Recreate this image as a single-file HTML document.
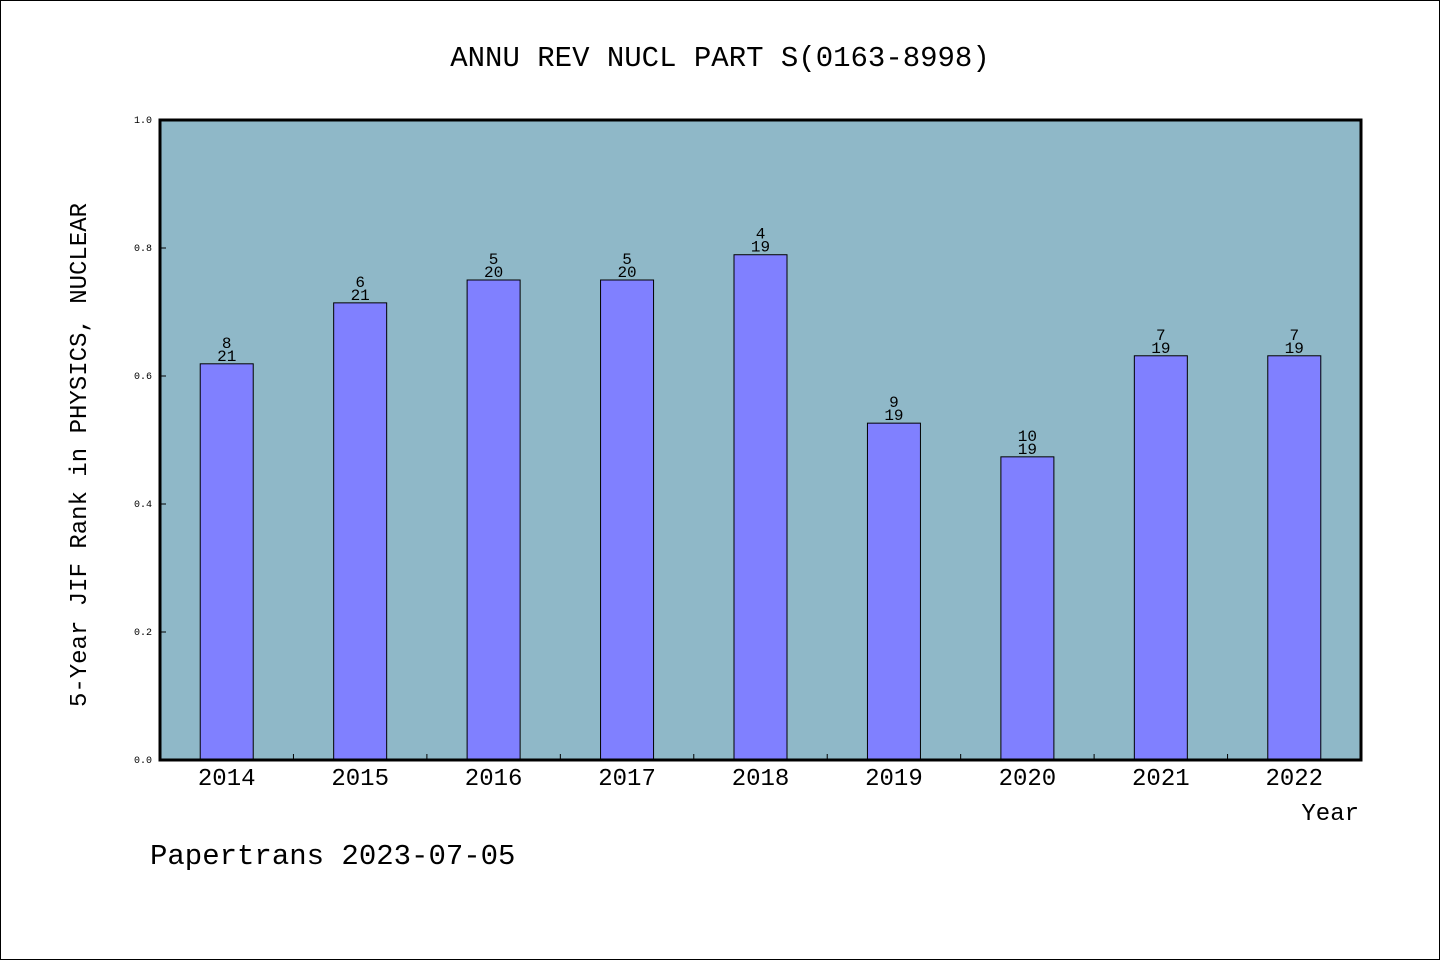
<!DOCTYPE html>
<html><head><meta charset="utf-8"><style>
html,body{margin:0;padding:0;background:#fff}
svg{display:block}
text{font-family:"Liberation Mono","WenQuanYi Zen Hei",monospace;fill:#000}
</style></head><body>
<svg id="chart" width="1440" height="960" viewBox="0 0 1440 960" xmlns="http://www.w3.org/2000/svg">
<rect x="0.5" y="0.5" width="1439" height="959" fill="#fff" stroke="#000"/>
<text x="720" y="66" font-size="29" text-anchor="middle">ANNU REV NUCL PART S(0163-8998)</text>
<rect x="160" y="120" width="1201" height="640" fill="#8fb8c8"/>
<g id="bars"></g>
<g id="yaxis"></g>
<g id="xaxis"></g>
<rect x="160" y="120" width="1201" height="640" fill="none" stroke="#000" stroke-width="3"/>
<text transform="translate(86,455) rotate(-90)" font-size="24" text-anchor="middle">5-Year JIF Rank in PHYSICS, NUCLEAR</text>
<text x="1359" y="820" font-size="24" text-anchor="end">Year</text>
<text x="150" y="864" font-size="29">Papertrans 2023-07-05</text>
</svg>
<script>
const years=["2014","2015","2016","2017","2018","2019","2020","2021","2022"];
const ranks=[8,6,5,5,4,9,10,7,7];
const totals=[21,21,20,20,19,19,19,19,19];
const yTicks=[0,0.2,0.4,0.6,0.8,1.0];
const NS="http://www.w3.org/2000/svg";
const x0=160,x1=1361,y0=760,y1=120;
const step=(x1-x0)/years.length;
const ys=v=>y0-(v)*(y0-y1);
const xc=i=>x0+step*(i+0.5);
function mk(t,a,p){const e=document.createElementNS(NS,t);for(const k in a)e.setAttribute(k,a[k]);p.appendChild(e);return e;}
const gb=document.getElementById('bars'),gy=document.getElementById('yaxis'),gx=document.getElementById('xaxis');
years.forEach((yr,i)=>{
 const v=1-ranks[i]/totals[i];
 const bw=53,top=ys(v);
 const r=mk('rect',{x:xc(i)-bw/2,y:top,width:bw,height:y0-top,fill:'#8080ff',stroke:'#000','stroke-width':1},gb);
 
 
 const t1=mk('text',{x:xc(i),y:top-16,'font-size':16,'text-anchor':'middle'},gb);t1.textContent=ranks[i];
 
 
 const t2=mk('text',{x:xc(i),y:top-3,'font-size':16,'text-anchor':'middle'},gb);t2.textContent=totals[i];
 
 
 const xl=mk('text',{x:xc(i),y:785,'font-size':24,'text-anchor':'middle'},gx);xl.textContent=yr;
 
 
 if(i>0){const tk=mk('line',{x1:x0+step*i,x2:x0+step*i,y1:y0,y2:y0-6,stroke:'#000'},gx);
 
 }
});
yTicks.forEach(v=>{
 const y=ys(v);
 const tk=mk('line',{x1:x0,x2:x0+6,y1:y,y2:y,stroke:'#000'},gy);
 
 
 const t=mk('text',{x:152,y:y+3,'font-size':10,'text-anchor':'end'},gy);t.textContent=v.toFixed(1);
 
 
});
</script>
</body></html>
